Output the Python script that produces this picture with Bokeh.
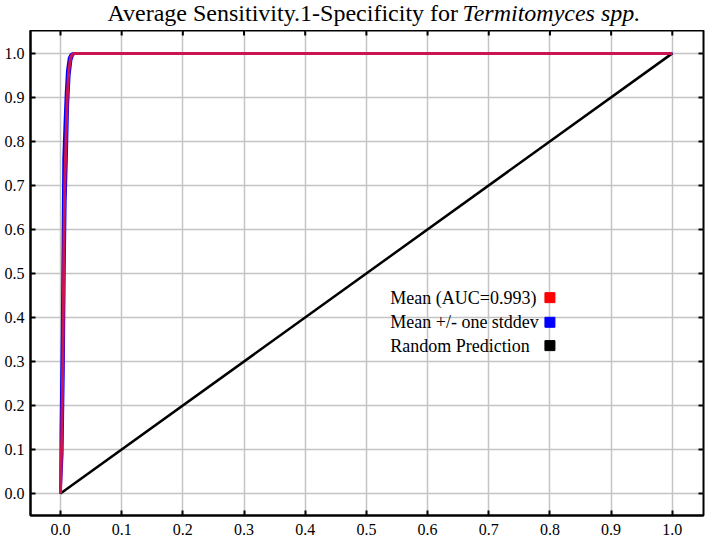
import math
from bokeh.plotting import figure
from bokeh.layouts import column
from bokeh.models import FixedTicker, NumeralTickFormatter, Range1d, ColumnDataSource
from bokeh.core.properties import value
from bokeh.embed import file_html
from bokeh.resources import INLINE

# ---- text ----
title_plain = "Average Sensitivity.1-Specificity for "
title_italic = "Termitomyces spp."

# ---- ticks ----
x_ticks = [0.0, 0.1, 0.2, 0.3, 0.4, 0.5, 0.6, 0.7, 0.8, 0.9, 1.0]
y_ticks = [0.0, 0.1, 0.2, 0.3, 0.4, 0.5, 0.6, 0.7, 0.8, 0.9, 1.0]

# ---- data (1-specificity, sensitivity) ----
mean_fpr = [0.0, 0.002, 0.0040, 0.0055, 0.0070, 0.0090, 0.0110, 0.0135, 0.0165, 0.0195, 0.023, 1.0]
mean_tpr = [0.0, 0.12, 0.32, 0.55, 0.70, 0.80, 0.90, 0.96, 0.99, 0.998, 1.0, 1.0]

upper_fpr = [0.0, 0.0005, 0.0025, 0.0040, 0.0050, 0.0070, 0.0090, 0.0110, 0.0140, 0.0170, 0.020, 1.0]
upper_tpr = [0.0, 0.14, 0.36, 0.60, 0.76, 0.84, 0.91, 0.96, 0.99, 0.998, 1.0, 1.0]

lower_fpr = [0.0, 0.003, 0.0050, 0.0065, 0.0080, 0.0100, 0.0120, 0.0145, 0.0175, 0.0205, 0.024, 1.0]
lower_tpr = [0.0, 0.09, 0.28, 0.50, 0.66, 0.76, 0.88, 0.95, 0.985, 0.997, 1.0, 1.0]

random_fpr = [0.0, 1.0]
random_tpr = [0.0, 1.0]

# ---- legend ----
legend_labels = ["Mean (AUC=0.993)", "Mean +/- one stddev", "Random Prediction"]
legend_colors = ["#ff0000", "#0000ff", "#000000"]

# layout constants (positions, not data)
X_START, X_END = -0.049, 1.051
Y_START, Y_END = -0.05, 1.052
legend_text_x = 0.539
legend_marker_x = 0.800
legend_rows_y = [0.445, 0.389, 0.336]

SERIF = "Liberation Serif"

# ---------------- title strip ----------------
tfig = figure(width=709, height=30, x_range=Range1d(0, 709), y_range=Range1d(0, 30),
              output_backend="svg", toolbar_location=None, title=None,
              x_axis_location=None, y_axis_location=None,
              min_border=0, min_border_left=0, min_border_right=0,
              min_border_top=0, min_border_bottom=0)
tfig.frame_align = False
tfig.grid.visible = False
tfig.outline_line_color = None
tfig.background_fill_color = "white"
tfig.border_fill_color = "white"
tsrc = ColumnDataSource(dict(x=[107, 107 + 355], y=[18, 18], t=[title_plain, title_italic],
                             s=["normal", "italic"]))
tfig.text(x="x", y="y", text="t", source=tsrc, text_font=value(SERIF), text_font_size="24px",
          text_font_style="s", text_baseline="middle", text_align="left", text_color="black")

# ---------------- main plot ----------------
p = figure(width=709, height=512,
           x_range=Range1d(X_START, X_END), y_range=Range1d(Y_START, Y_END),
           output_backend="svg", toolbar_location=None, title=None,
           min_border_left=30, min_border_right=6, min_border_top=0, min_border_bottom=27)
p.frame_align = False

p.background_fill_color = "white"
p.border_fill_color = "white"
p.outline_line_color = "black"
p.outline_line_width = 2

for ax, ticks in ((p.xaxis[0], x_ticks), (p.yaxis[0], y_ticks)):
    ax.ticker = FixedTicker(ticks=ticks)
    ax.formatter = NumeralTickFormatter(format="0.0")
    ax.major_tick_in = 5
    ax.major_tick_out = 0
    ax.minor_tick_in = 0
    ax.minor_tick_out = 0
    ax.axis_line_color = "black"
    ax.axis_line_width = 2
    ax.major_tick_line_color = "black"
    ax.major_tick_line_width = 2
    ax.major_label_text_font = SERIF
    ax.major_label_text_font_size = "16px"
    ax.major_label_text_color = "black"
p.xaxis[0].major_label_standoff = 8
p.yaxis[0].major_label_standoff = 6

p.xgrid.ticker = FixedTicker(ticks=x_ticks)
p.ygrid.ticker = FixedTicker(ticks=y_ticks)
p.grid.grid_line_color = "#c4c4c4"
p.grid.grid_line_width = 1.5

# inward tick marks on the top and right edges (half of each dash is clipped by the frame)
p.scatter(x=x_ticks, y=[Y_END] * len(x_ticks), marker="dash", angle=math.pi / 2, size=10,
          line_color="black", line_width=2)
p.scatter(x=[X_END] * len(y_ticks), y=y_ticks, marker="dash", size=10,
          line_color="black", line_width=2)

# curves
p.line(upper_fpr, upper_tpr, line_color=legend_colors[1], line_width=2.5)
p.line(lower_fpr, lower_tpr, line_color=legend_colors[1], line_width=2.5)
p.line(random_fpr, random_tpr, line_color=legend_colors[2], line_width=2.5)
p.line(mean_fpr, mean_tpr, line_color="#cc1450", line_width=3)

# legend (text left, colour square right)
src = ColumnDataSource(dict(
    tx=[legend_text_x] * 3, mx=[legend_marker_x] * 3, y=legend_rows_y,
    label=legend_labels, color=legend_colors))
p.text(x="tx", y="y", text="label", source=src, text_font=value(SERIF),
       text_font_size="18px", text_baseline="middle", text_align="left", text_color="black")
p.scatter(x="mx", y="y", source=src, marker="square", size=10, fill_color="color", line_color="color")

layout = column(tfig, p, spacing=0)
open("out.html", "w").write(file_html(layout, INLINE))
